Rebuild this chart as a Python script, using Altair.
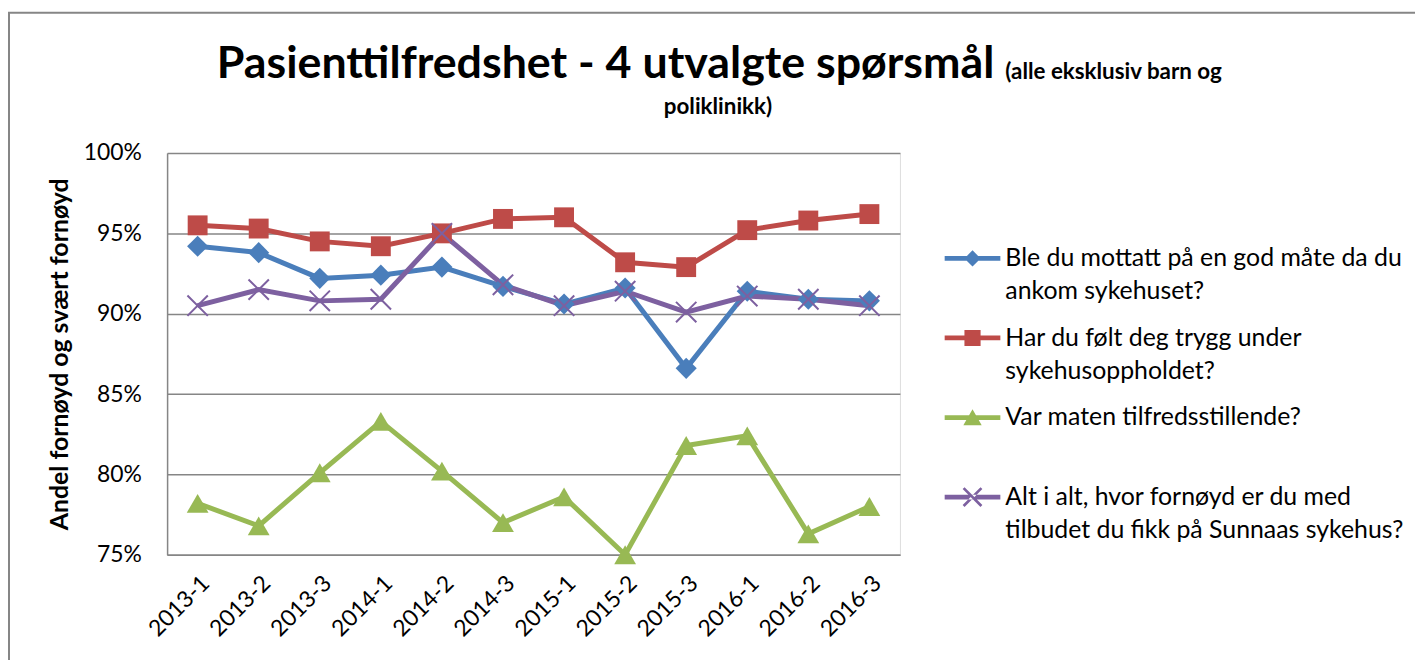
import altair as alt
import pandas as pd

periods = ["2013-1", "2013-2", "2013-3", "2014-1", "2014-2", "2014-3",
           "2015-1", "2015-2", "2015-3", "2016-1", "2016-2", "2016-3"]
series_names = [
    "Ble du mottatt på en god måte da du ankom sykehuset?",
    "Har du følt deg trygg under sykehusoppholdet?",
    "Var maten tilfredsstillende?",
    "Alt i alt, hvor fornøyd er du med tilbudet du fikk på Sunnaas sykehus?",
]
legend_lines = [
    ["Ble du mottatt på en god måte da du", "ankom sykehuset?"],
    ["Har du følt deg trygg under", "sykehusoppholdet?"],
    ["Var maten tilfredsstillende?", ""],
    ["Alt i alt, hvor fornøyd er du med", "tilbudet du fikk på Sunnaas sykehus?"],
]
mottatt = [94.2, 93.8, 92.2, 92.4, 92.9, 91.7, 90.6, 91.6, 86.6, 91.4, 90.9, 90.8]
trygg = [95.5, 95.3, 94.5, 94.2, 95.0, 95.9, 96.0, 93.2, 92.9, 95.2, 95.8, 96.2]
maten = [78.2, 76.8, 80.1, 83.3, 80.2, 77.0, 78.6, 75.0, 81.8, 82.4, 76.3, 78.0]
altialt = [90.5, 91.5, 90.8, 90.9, 95.0, 91.8, 90.5, 91.4, 90.1, 91.1, 90.9, 90.5]
y_ticks = [0.75, 0.80, 0.85, 0.90, 0.95, 1.00]

title_main = "Pasienttilfredshet - 4 utvalgte spørsmål"
title_small_1 = "(alle eksklusiv barn og"
title_small_2 = "poliklinikk)"
y_title = "Andel fornøyd og svært fornøyd"

line_colors = ["#4A7EBB", "#BE4B48", "#98B954", "#7D60A0"]

rows = []
for name, vals in zip(series_names, [mottatt, trygg, maten, altialt]):
    for p, v in zip(periods, vals):
        rows.append({"periode": p, "serie": name, "andel": v / 100.0})
df = pd.DataFrame(rows)

FONT = "Lato"
GRID = "#868686"

x_enc = alt.X("periode:O", sort=periods,
              scale=alt.Scale(type="point", padding=0.5),
              axis=alt.Axis(title=None, labelAngle=-45, labelFontSize=23,
                            labelFont=FONT, labelColor="#000", ticks=False,
                            labelPadding=17, domainColor=GRID, domainWidth=1.5))
y_enc = alt.Y("andel:Q", scale=alt.Scale(domain=[0.75, 1.0], nice=False, zero=False),
              axis=alt.Axis(title=y_title, values=y_ticks, format=".0%",
                            labelFontSize=23, labelFont=FONT, labelColor="#000",
                            ticks=False, labelPadding=26, domainColor=GRID,
                            domainWidth=1.5, gridColor=GRID, gridWidth=1.5,
                            titleFont=FONT, titleFontSize=25, titleFontWeight="bold",
                            titleColor="#000", titlePadding=11))
color_scale = alt.Scale(domain=series_names, range=line_colors)

base = alt.Chart(df)

lines = base.mark_line(strokeWidth=5).encode(
    x=x_enc, y=y_enc,
    color=alt.Color("serie:N", scale=color_scale, legend=None),
)

def marker(idx, shape, size, filled=True, sw=0):
    return base.transform_filter(alt.datum.serie == series_names[idx]).mark_point(
        shape=shape, size=size, filled=filled, opacity=1, strokeWidth=sw
    ).encode(x=x_enc, y=y_enc,
             color=alt.Color("serie:N", scale=color_scale, legend=None))

m_blue = marker(0, "diamond", 450)
m_red = marker(1, "square", 400)
m_green = marker(2, "triangle-up", 480)
m_purple = marker(3, "M-1,-1L1,1M-1,1L1,-1", 420, filled=False, sw=2)

# legend symbols: line segment + marker (filled paths)
bar = "M-1,-0.085H1V0.085H-1Z"
a, d = 0.32, 0.034
xpath = (f"M{-a+d},{-a-d}L{a+d},{a-d}L{a-d},{a+d}L{-a-d},{-a+d}Z"
         f"M{-a+d},{a+d}L{a+d},{-a+d}L{a-d},{-a-d}L{-a-d},{a-d}Z")
legend_shapes = [
    bar + "M0,-0.29L0.29,0L0,0.29L-0.29,0Z",
    bar + "M-0.29,-0.29H0.29V0.29H-0.29Z",
    bar + "M0,-0.3L0.33,0.28L-0.33,0.28Z",
    bar + xpath,
]

label_expr = ""
for name, ln in zip(series_names, legend_lines):
    label_expr += f"datum.label == '{name}' ? ['{ln[0]}', '{ln[1]}'] : "
label_expr += "datum.label"

def make_legend():
    return alt.Legend(title=None, orient="none", legendX=782, legendY=78,
                      symbolSize=3136, labelExpr=label_expr,
                      labelFont=FONT, labelFontSize=25, labelColor="#000",
                      labelLimit=500, labelOffset=5, rowPadding=6,
                      padding=0, symbolOpacity=1, symbolStrokeWidth=0)

legend_layer = base.mark_point(
    filled=True, opacity=0, size=3136
).encode(
    x=x_enc, y=y_enc,
    color=alt.Color("serie:N", scale=color_scale, legend=make_legend()),
    shape=alt.Shape("serie:N", scale=alt.Scale(domain=series_names, range=legend_shapes),
                    legend=make_legend()),
)

one = pd.DataFrame({"t": [0]})
frame = alt.Chart(one).mark_rect(fillOpacity=0, stroke=GRID, strokeWidth=2).encode(
    x=alt.value(-159), x2=alt.value(1262), y=alt.value(-141), y2=alt.value(520))

t_main = alt.Chart(pd.DataFrame({"t": [title_main]})).mark_text(
    font=FONT, fontSize=45, fontWeight="bold", align="left",
    baseline="alphabetic", color="#000").encode(
    text="t:N", x=alt.value(50), y=alt.value(-75))
t_s1 = alt.Chart(pd.DataFrame({"t": [title_small_1]})).mark_text(
    font=FONT, fontSize=22.5, fontWeight="bold", align="left",
    baseline="alphabetic", color="#000").encode(
    text="t:N", x=alt.value(843), y=alt.value(-74))
t_s2 = alt.Chart(pd.DataFrame({"t": [title_small_2]})).mark_text(
    font=FONT, fontSize=22.5, fontWeight="bold", align="center",
    baseline="alphabetic", color="#000").encode(
    text="t:N", x=alt.value(554), y=alt.value(-39))

chart = alt.layer(
    legend_layer, frame, lines, m_blue, m_red, m_green, m_purple, t_main, t_s1, t_s2
).properties(
    width=737, height=404,
    autosize=alt.AutoSizeParams(type="none"),
    padding={"left": 160, "top": 144, "right": 518, "bottom": 104},
).configure_view(stroke=None).configure(
    font=FONT,
    style={"guide-label": {"lineHeight": 33}},
)

chart.save("out.html", embed_options={"renderer": "svg", "actions": False})
